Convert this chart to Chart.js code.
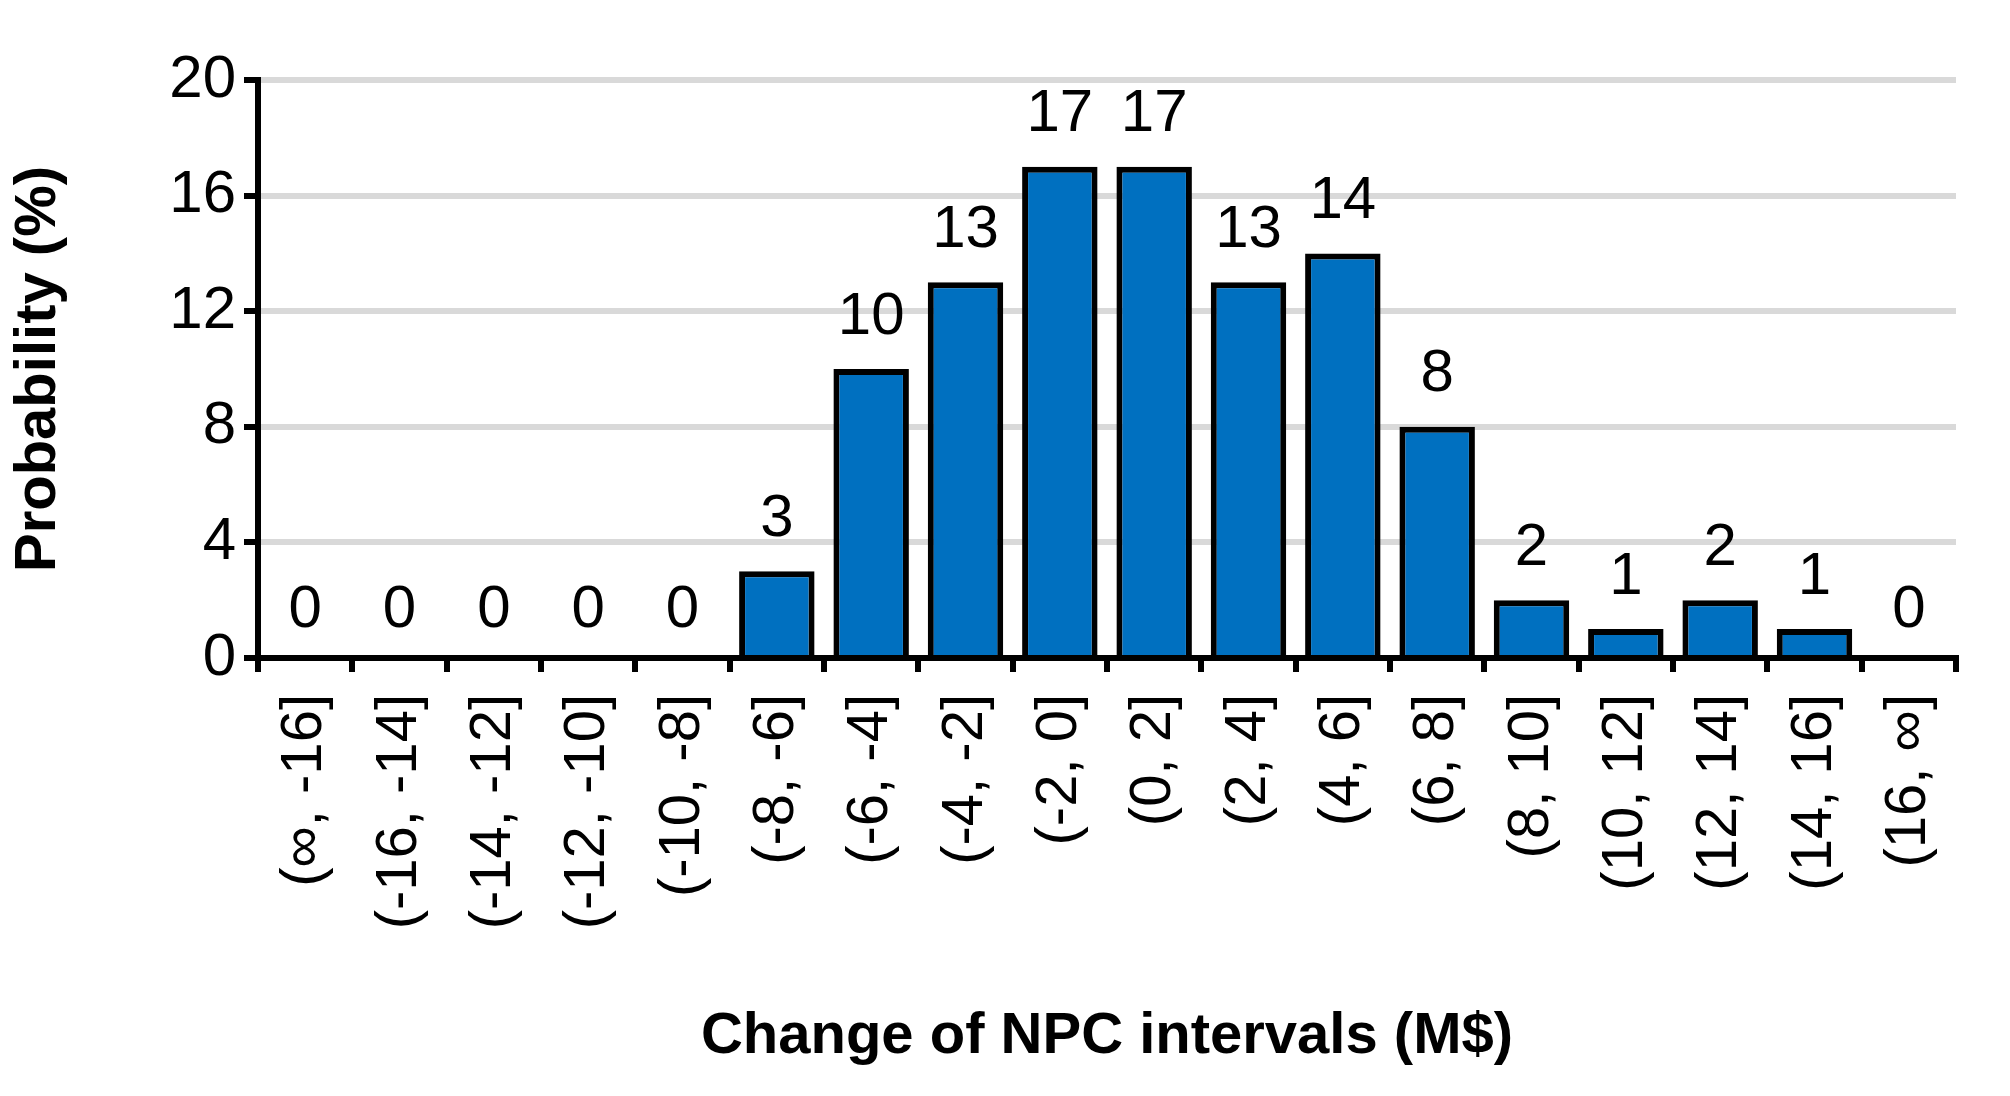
<!DOCTYPE html>
<html><head><meta charset="utf-8">
<script src="https://cdn.jsdelivr.net/npm/chart.js@4"></script>
<style>html,body{margin:0;padding:0;background:#fff}#w{width:2010px;height:1096px}</style>
</head><body><div id="w"><canvas id="c"></canvas></div>
<script>
const categories = ["(∞, -16]","(-16, -14]","(-14, -12]","(-12, -10]","(-10, -8]","(-8, -6]","(-6, -4]","(-4, -2]","(-2, 0]","(0, 2]","(2, 4]","(4, 6]","(6, 8]","(8, 10]","(10, 12]","(12, 14]","(14, 16]","(16, ∞]"];
const probability = [0,0,0,0,0,3,10,13,17,17,13,14,8,2,1,2,1,0];
const yTicks = [0,4,8,12,16,20];
const F = "'Liberation Sans', Arial, sans-serif";
const valueLabels = {
  id:'valueLabels',
  afterDatasetsDraw(chart){
    const ctx=chart.ctx, meta=chart.getDatasetMeta(0);
    ctx.save();ctx.font="60px "+F;ctx.fillStyle="#000";ctx.textAlign="center";ctx.textBaseline="bottom";
    meta.data.forEach((b,i)=>{ctx.fillText(String(probability[i]), b.x, b.y-(probability[i]>0?22:18));});
    ctx.restore();
  }
};
new Chart(document.getElementById('c'),{
  type:'bar',
  data:{labels:categories,datasets:[{data:probability,backgroundColor:'#0070C0',borderColor:'#000',borderWidth:6,borderSkipped:'bottom',categoryPercentage:1,barPercentage:0.8}]},
  options:{
    responsive:true,maintainAspectRatio:false,animation:false,
    layout:{padding:{left:0,right:54,top:80,bottom:20}},
    plugins:{legend:{display:false},tooltip:{enabled:false}},
    scales:{
      x:{offset:true,
        grid:{offset:true,drawOnChartArea:false,drawTicks:true,tickLength:14,color:'#000',lineWidth:6},
        border:{color:'#000',width:6},
        ticks:{font:{family:F,size:58},color:'#000',maxRotation:90,minRotation:90,autoSkip:false,padding:22},
        title:{display:true,text:'Change of NPC intervals (M$)',font:{family:F,size:58,weight:'bold'},color:'#000',padding:{top:20}},
        afterFit(s){s.height=418;}
      },
      y:{min:0,max:20,
        afterBuildTicks(s){s.ticks=yTicks.map(v=>({value:v}));},
        grid:{color:'#d9d9d9',lineWidth:6,drawTicks:true,tickLength:14,tickColor:'#000',tickWidth:6},
        border:{color:'#000',width:6},
        ticks:{font:{family:F,size:60},color:'#000',padding:8},
        title:{display:true,text:'Probability (%)',font:{family:F,size:58,weight:'bold'},color:'#000',padding:{bottom:20}},
        afterFit(s){s.width=258;}
      }
    }
  },
  plugins:[valueLabels]
});
</script></body></html>
